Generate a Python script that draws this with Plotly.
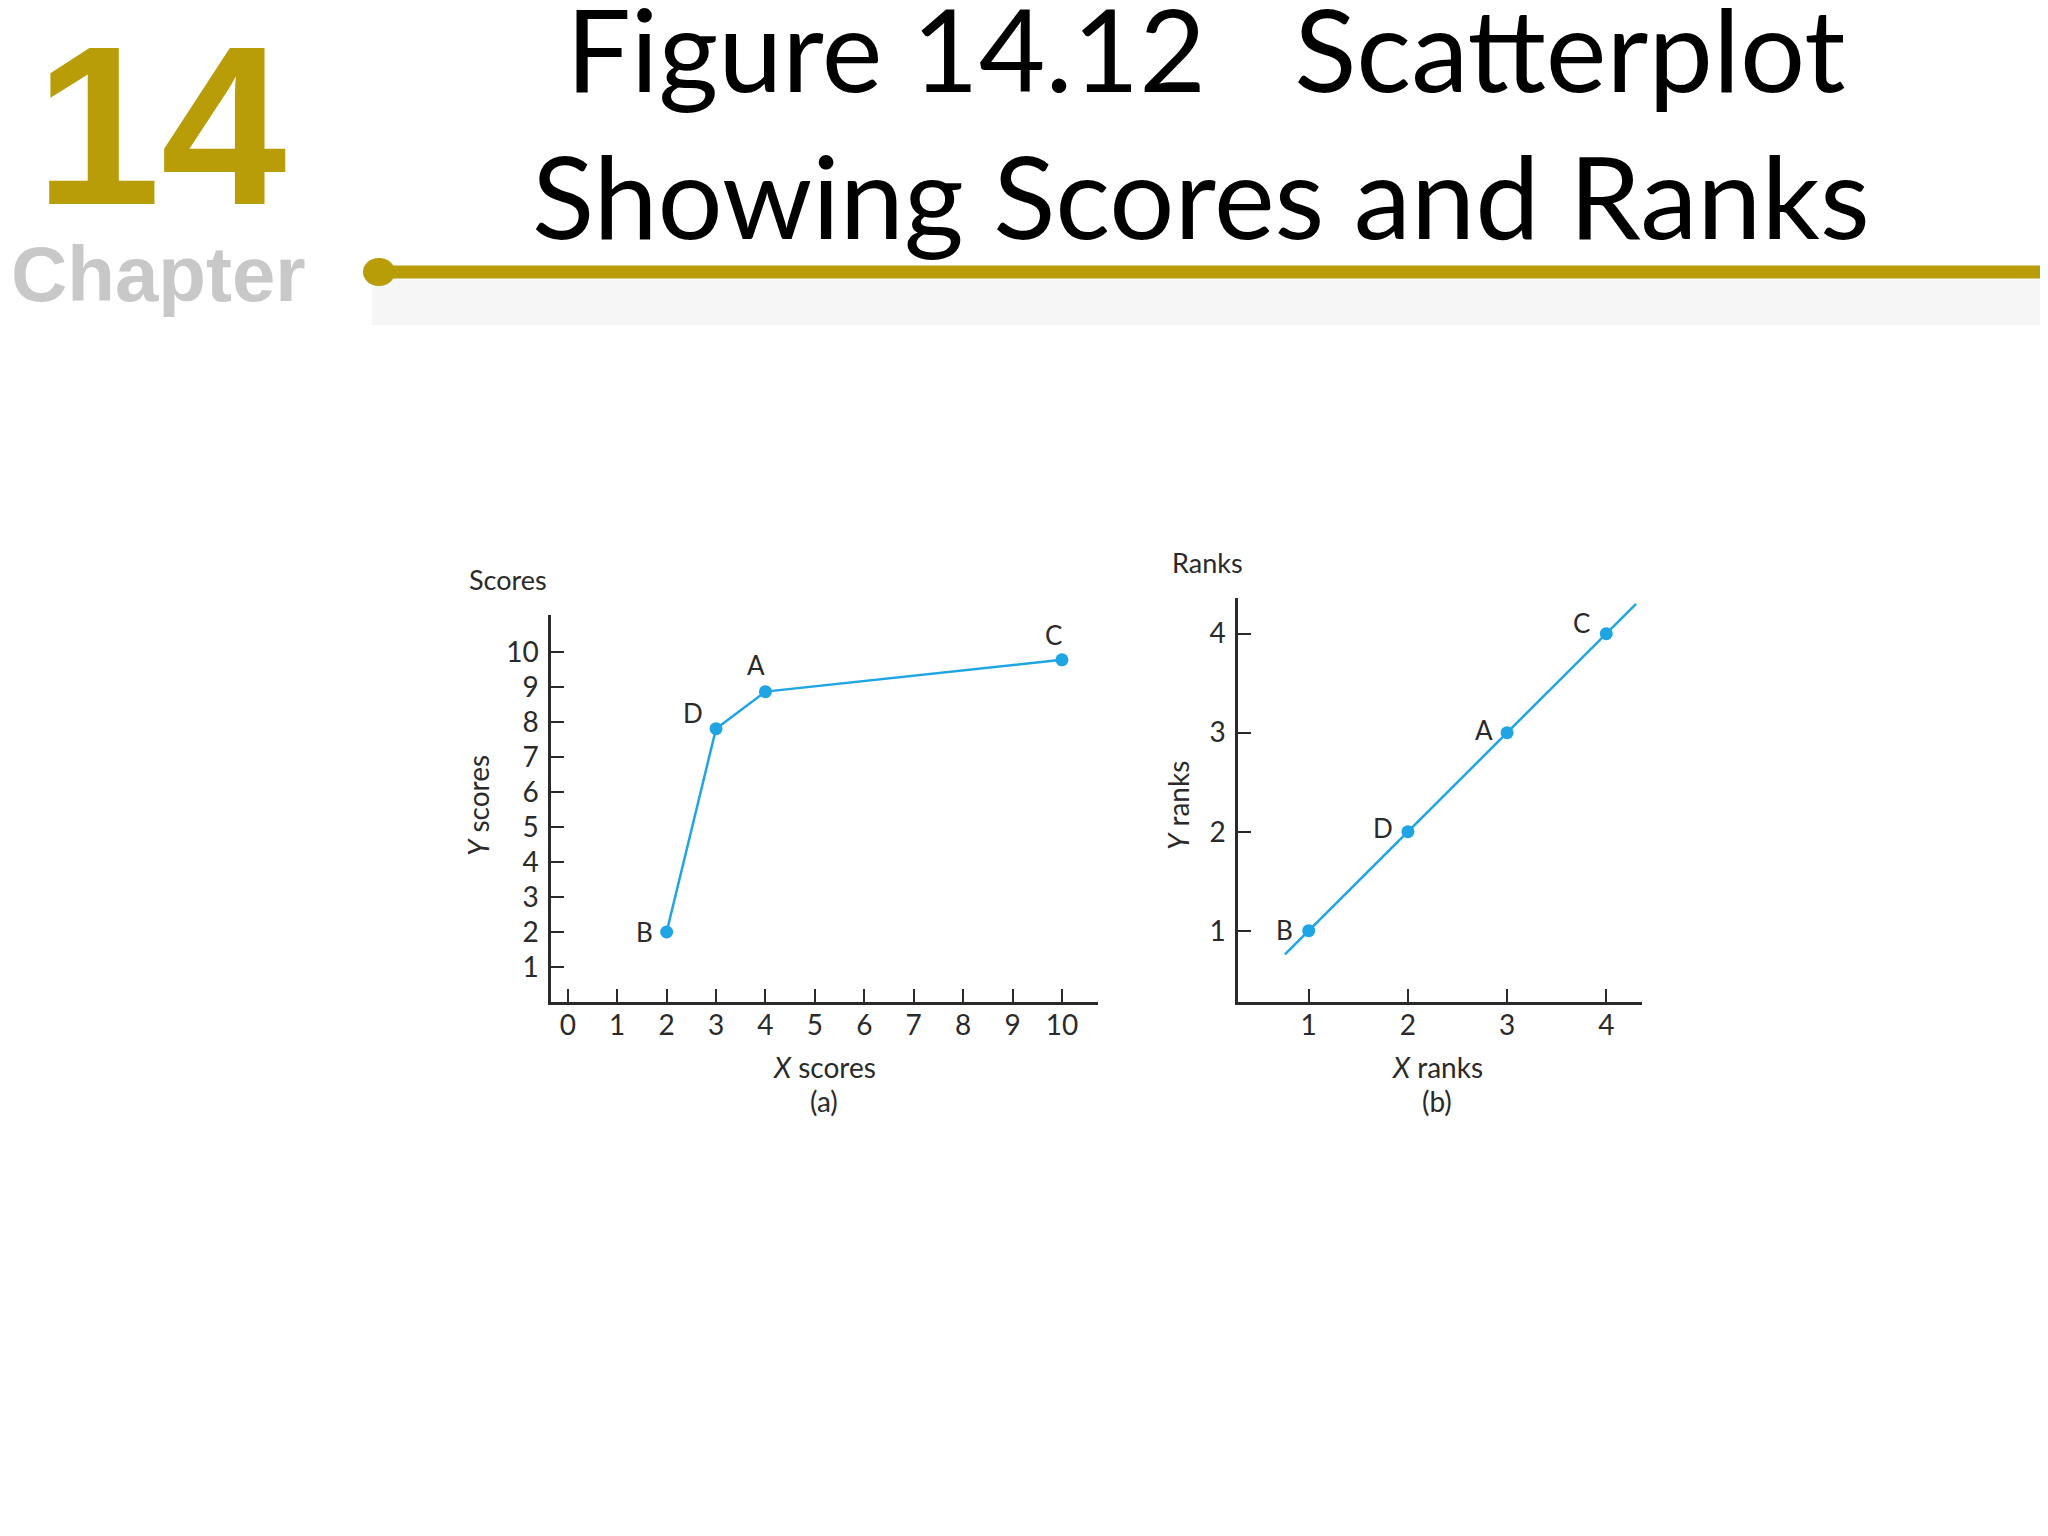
import plotly.graph_objects as go

# ---------------- data ----------------
point_names = ["A", "B", "C", "D"]
x_scores = [4, 2, 10, 3]
y_scores = [8.87, 2.0, 9.78, 7.81]

x_ranks = [3, 1, 4, 2]
y_ranks = [3, 1, 4, 2]
fit_x = [0.76, 4.3]
fit_y = [0.76, 4.3]

score_xticks = list(range(0, 11))
score_yticks = list(range(1, 11))
rank_ticks = [1, 2, 3, 4]

# label offsets (pixels) for the point letters
offs_a = {"A": (-9, 27), "B": (-22, 0), "C": (-8, 25), "D": (-23, 16)}
offs_b = {"A": (-23, 3), "B": (-24, 1), "C": (-25, 11), "D": (-25, 4)}

# page body has an 8px margin: size the figure so it fits without scrolling
OFF = 8
W, H = 2048 - 2 * OFF, 1536 - 2 * OFF
def px(x):
    return (x - OFF) / W
def py(y):
    return 1 - (y - OFF) / H

BLUE = "#1FA5E4"
INK = "#2a2a2a"
GOLD = "#B89C08"
FONT = "Lato"

fig = go.Figure()

# panel (a)
order = sorted(range(len(x_scores)), key=lambda i: x_scores[i])
fig.add_trace(go.Scatter(
    x=[x_scores[i] for i in order], y=[y_scores[i] for i in order],
    mode="lines+markers", line=dict(color=BLUE, width=2.5),
    marker=dict(color=BLUE, size=13), xaxis="x", yaxis="y",
    showlegend=False, hoverinfo="skip"))

# panel (b)
fig.add_trace(go.Scatter(
    x=fit_x, y=fit_y, mode="lines", line=dict(color=BLUE, width=2.5),
    xaxis="x2", yaxis="y2", showlegend=False, hoverinfo="skip"))
fig.add_trace(go.Scatter(
    x=x_ranks, y=y_ranks, mode="markers",
    marker=dict(color=BLUE, size=13), xaxis="x2", yaxis="y2",
    showlegend=False, hoverinfo="skip"))

axis_common = dict(showline=True, linecolor=INK, linewidth=2.5, ticks="inside",
                   ticklen=13, tickwidth=2, tickcolor=INK, showgrid=False,
                   zeroline=False, tickfont=dict(family=FONT, size=28, color=INK),
                   fixedrange=True)

fig.update_layout(
    width=W, height=H, autosize=False,
    margin=dict(l=0, r=0, t=0, b=0),
    paper_bgcolor="white", plot_bgcolor="rgba(0,0,0,0)",
    xaxis=dict(domain=[px(551), px(1098)], range=[-0.34, 10.73], anchor="y",
               tickmode="array", tickvals=score_xticks, ticklabelstandoff=-3, **axis_common),
    yaxis=dict(domain=[py(1002), py(615)], range=[0, 11.06], anchor="x",
               tickmode="array", tickvals=score_yticks, ticklabelstandoff=4, **axis_common),
    xaxis2=dict(domain=[px(1238), px(1642)], range=[0.287, 4.36], anchor="y2",
                tickmode="array", tickvals=rank_ticks, ticklabelstandoff=-3, **axis_common),
    yaxis2=dict(domain=[py(1002), py(598)], range=[0.28, 4.36], anchor="x2",
                tickmode="array", tickvals=rank_ticks, ticklabelstandoff=4, **axis_common),
)

ann = []
def txt(x, y, s, size, color=INK, family=FONT, weight="normal", **kw):
    d = dict(x=px(x), y=py(y), xref="paper", yref="paper", text=s, showarrow=False,
             font=dict(family=family, size=size, color=color, weight=weight),
             xanchor="center", yanchor="middle")
    d.update(kw)
    ann.append(d)

# panel texts
txt(508, 580, "Scores", 27)
txt(1207, 562, "Ranks", 27)
txt(478, 806, "<i>Y</i> scores", 28, textangle=-90)
txt(1178, 806, "<i>Y</i> ranks", 28, textangle=-90)
txt(824, 1067, "<i>X</i> scores", 28)
txt(824, 1101, "(a)", 28)
txt(1437, 1067, "<i>X</i> ranks", 28)
txt(1437, 1101, "(b)", 28)

# point letters
for n, xv, yv in zip(point_names, x_scores, y_scores):
    dx, dy = offs_a[n]
    ann.append(dict(x=xv, y=yv, xref="x", yref="y", text=n, showarrow=False,
                    xshift=dx, yshift=dy, font=dict(family=FONT, size=26, color=INK)))
for n, xv, yv in zip(point_names, x_ranks, y_ranks):
    dx, dy = offs_b[n]
    ann.append(dict(x=xv, y=yv, xref="x2", yref="y2", text=n, showarrow=False,
                    xshift=dx, yshift=dy, font=dict(family=FONT, size=26, color=INK)))

# header
txt(160, 126, "14", 226, color=GOLD, family="Liberation Sans", weight="bold")
txt(158, 274, "Chapter", 78, color="#C8C8C8", family="Liberation Sans", weight="bold")
txt(1205, 47, "Figure 14.12   Scatterplot", 115, color="black")
txt(1201, 194, "Showing Scores and Ranks", 115, color="black")

fig.update_layout(annotations=ann)

shapes = [
    dict(type="rect", xref="paper", yref="paper", x0=px(372), x1=1, y0=py(325), y1=py(280),
         fillcolor="#F6F6F6", line=dict(width=0), layer="below"),
    dict(type="line", xref="paper", yref="paper", x0=px(379), x1=1, y0=py(272), y1=py(272),
         line=dict(color=GOLD, width=13)),
    dict(type="circle", xref="paper", yref="paper", x0=px(363), x1=px(395), y0=py(286), y1=py(258),
         fillcolor=GOLD, line=dict(width=0)),
]
fig.update_layout(shapes=shapes)

fig.write_html("out.html")
